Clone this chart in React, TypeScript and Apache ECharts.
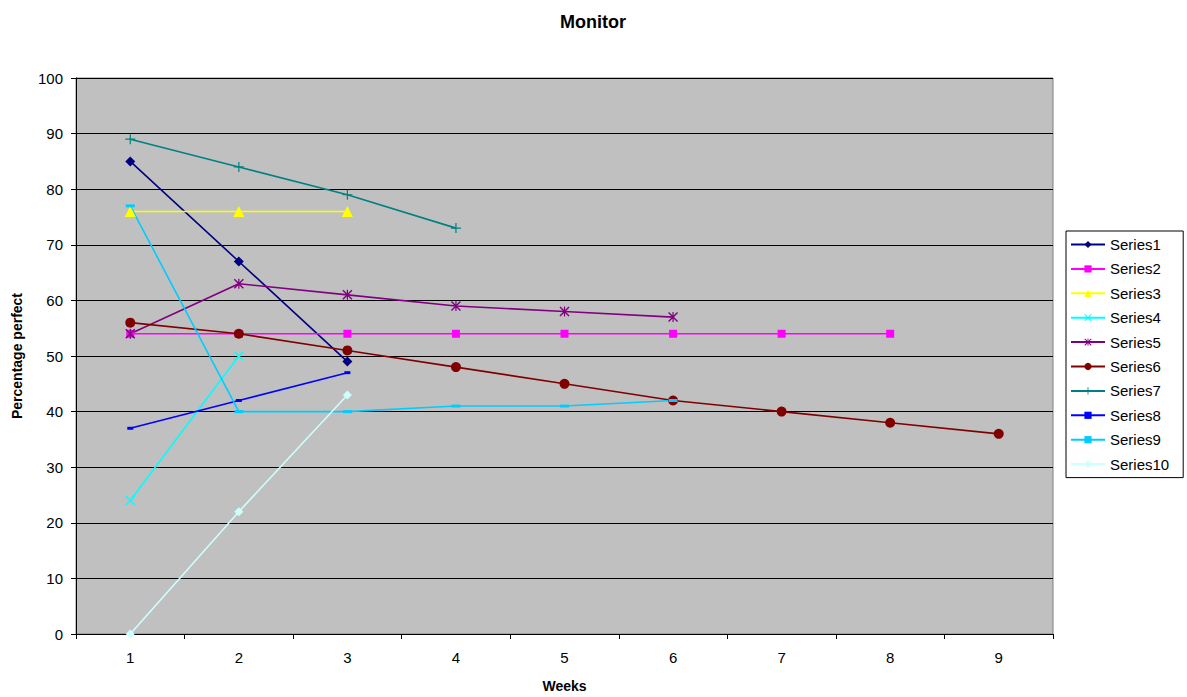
import React, { useEffect, useRef } from "react";
import * as echarts from "echarts";

// Week numbers along the x axis
const weeks = ["1", "2", "3", "4", "5", "6", "7", "8", "9"];

// Percentage perfect for each series, by week
const series1 = [85, 67, 49];
const series2 = [54, 54, 54, 54, 54, 54, 54, 54];
const series3 = [76, 76, 76];
const series4 = [24, 50];
const series5 = [54, 63, 61, 59, 58, 57];
const series6 = [56, 54, 51, 48, 45, 42, 40, 38, 36];
const series7 = [89, 84, 79, 73];
const series8 = [37, 42, 47];
const series9 = [77, 40, 40, 41, 41, 42];
const series10 = [0, 22, 43];

const seriesNames = [
  "Series1", "Series2", "Series3", "Series4", "Series5",
  "Series6", "Series7", "Series8", "Series9", "Series10",
];
const seriesValues = [
  series1, series2, series3, series4, series5,
  series6, series7, series8, series9, series10,
];
const seriesColors = [
  "#000080", "#FF00FF", "#FFFF00", "#00FFFF", "#800080",
  "#800000", "#008080", "#0000FF", "#00CCFF", "#CCFFFF",
];

// Marker shapes drawn as filled outlines
const crossPath =
  "path://M0,1 L1,0 L5,4 L9,0 L10,1 L6,5 L10,9 L9,10 L5,6 L1,10 L0,9 L4,5 Z";
const plusPath =
  "path://M4.4,0 L5.6,0 L5.6,4.4 L10,4.4 L10,5.6 L5.6,5.6 L5.6,10 L4.4,10 L4.4,5.6 L0,5.6 L0,4.4 L4.4,4.4 Z";
const starPath =
  "path://M0,1 L1,0 L5,4 L9,0 L10,1 L6,5 L10,9 L9,10 L5,6 L1,10 L0,9 L4,5 Z " +
  "M4.4,0 L5.6,0 L5.6,10 L4.4,10 Z";

const symbols: any[] = [
  "diamond", "rect", "triangle", crossPath, starPath,
  "circle", plusPath, "rect", "rect", "diamond",
];
const symbolSizes: any[] = [
  10, 8, 11, 10, 10,
  10, 10, [6, 3], [9, 3], 9,
];

const FONT = "Arial, 'Liberation Sans', sans-serif";

export default function App() {
  const ref = useRef<HTMLDivElement>(null);

  useEffect(() => {
    if (!ref.current) return;
    const chart = echarts.init(ref.current, undefined, { renderer: "svg" });

    chart.setOption({
      animation: false,
      backgroundColor: "#FFFFFF",
      textStyle: { fontFamily: FONT, color: "#000" },
      title: {
        text: "Monitor",
        left: 588,
        top: 8,
        textAlign: "center",
        textStyle: { fontFamily: FONT, fontSize: 18, fontWeight: "bold", color: "#000" },
      },
      grid: {
        left: 76,
        top: 78,
        width: 977,
        height: 556,
        outerBoundsMode: "none",
        containLabel: false,
        show: true,
        backgroundColor: "#C0C0C0",
        borderColor: "#808080",
        borderWidth: 1,
      },
      legend: {
        orient: "vertical",
        left: 1066,
        top: 231,
        data: seriesNames,
        backgroundColor: "#FFFFFF",
        borderColor: "#000000",
        borderWidth: 1,
        padding: [6, 14, 6, 4],
        itemWidth: 34,
        itemHeight: 9,
        itemGap: 9.4,
        textStyle: { fontFamily: FONT, fontSize: 15, color: "#000" },
      },
      xAxis: {
        type: "category",
        data: weeks,
        boundaryGap: true,
        name: "Weeks",
        nameLocation: "middle",
        nameGap: 45,
        nameTextStyle: { fontFamily: FONT, fontSize: 14, fontWeight: "bold", color: "#000" },
        axisLine: { lineStyle: { color: "#000", width: 1 } },
        axisTick: { show: true, interval: 0, length: 5, inside: false, lineStyle: { color: "#000" } },
        axisLabel: { fontFamily: FONT, fontSize: 15, color: "#000", margin: 16 },
        splitLine: { show: false },
      },
      yAxis: {
        type: "value",
        min: 0,
        max: 100,
        interval: 10,
        name: "Percentage perfect",
        nameLocation: "middle",
        nameGap: 52,
        nameRotate: 90,
        nameTextStyle: { fontFamily: FONT, fontSize: 14, fontWeight: "bold", color: "#000" },
        axisLine: { show: true, lineStyle: { color: "#000", width: 1 } },
        axisTick: { show: true, length: 5, inside: false, lineStyle: { color: "#000" } },
        axisLabel: { fontFamily: FONT, fontSize: 15, color: "#000", margin: 13 },
        splitLine: { show: true, lineStyle: { color: "#000", width: 1 } },
      },
      series: seriesNames.map((name, i) => ({
        name,
        type: "line",
        data: seriesValues[i],
        symbol: symbols[i],
        symbolSize: symbolSizes[i],
        showAllSymbol: true,
        color: seriesColors[i],
        lineStyle: { color: seriesColors[i], width: 1.6 },
        itemStyle: { color: seriesColors[i], borderWidth: 0 },
        emphasis: { disabled: true },
      })),
    });

    return () => chart.dispose();
  }, []);

  return (
    <div
      ref={ref}
      style={{ position: "absolute", left: 0, top: 0, width: 1187, height: 697 }}
    />
  );
}
